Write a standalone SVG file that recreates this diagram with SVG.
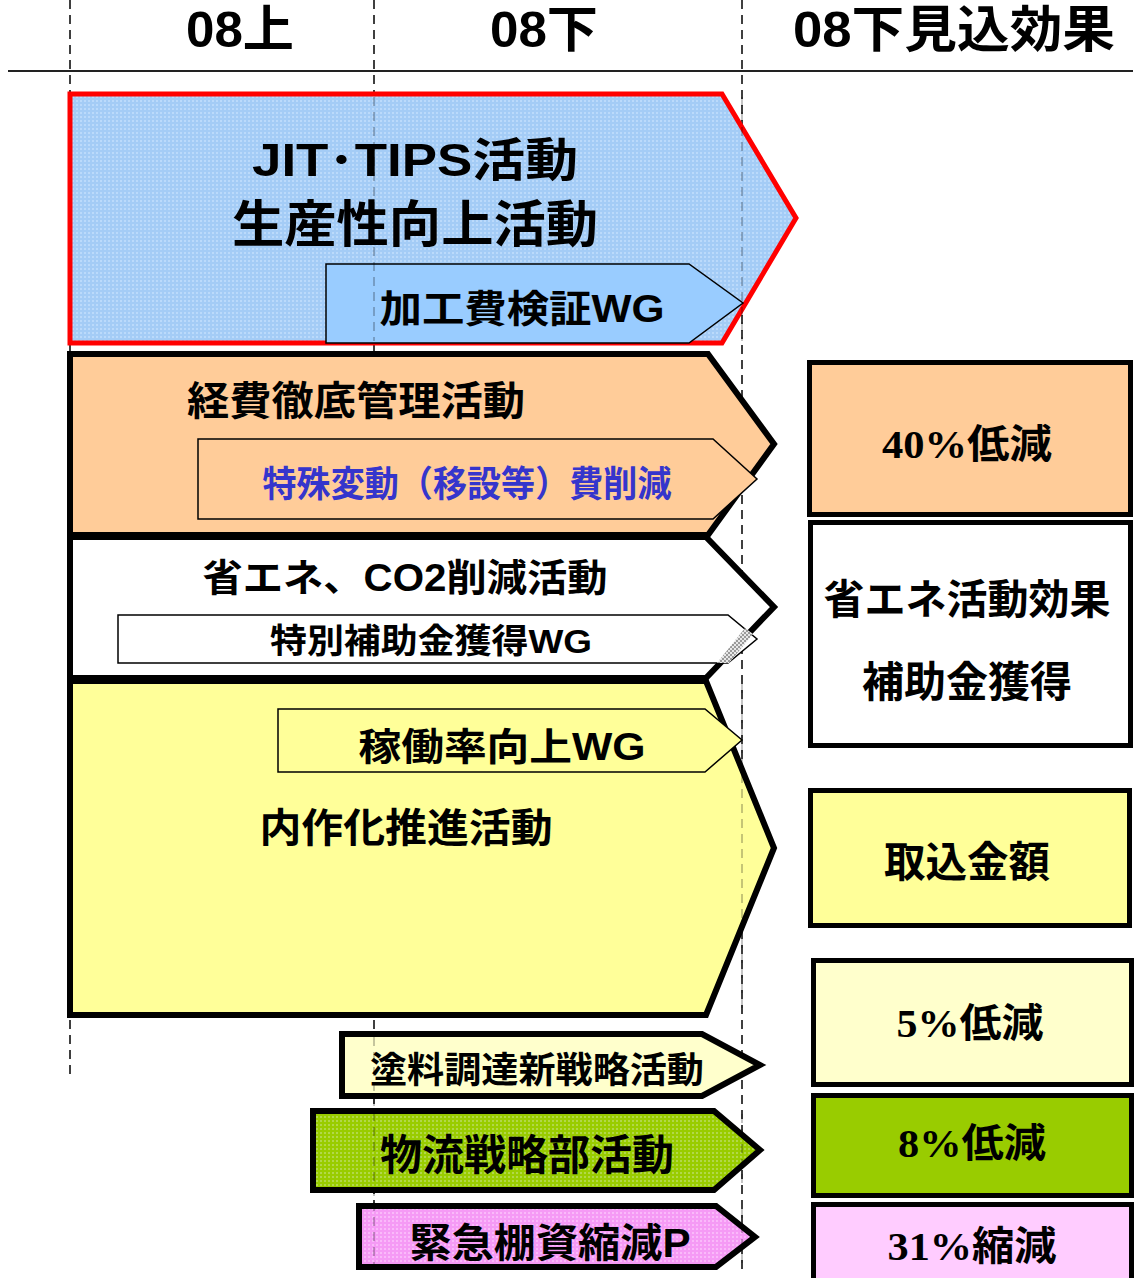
<svg xmlns="http://www.w3.org/2000/svg" width="1135" height="1278" viewBox="0 0 1135 1278">
<style>
.t{font-family:"Liberation Sans","Noto Sans CJK JP",sans-serif;font-weight:bold;fill:#000;text-anchor:middle}
.s{font-family:"Liberation Serif","Noto Sans CJK JP",serif;font-weight:bold;fill:#000;text-anchor:middle}
.dash{stroke:#000;stroke-width:1.5;stroke-dasharray:9,6;fill:none}
.ghost{stroke:#000;stroke-width:1.5;stroke-dasharray:9,6;fill:none;stroke-opacity:0.3}
.outer{stroke:#000;stroke-width:6;stroke-linejoin:miter}
.inner{stroke:#000;stroke-width:1.5}
.box{stroke:#000;stroke-width:5}
</style>
<defs>
<pattern id="pBlue" width="4" height="4" patternUnits="userSpaceOnUse"><rect width="4" height="4" fill="#A4CCF6"/><rect width="2" height="2" fill="#BBDAFB"/></pattern>
<pattern id="pGreen" width="4" height="4" patternUnits="userSpaceOnUse"><rect width="4" height="4" fill="#99CC00"/><rect width="2" height="2" fill="#B2D84A"/></pattern>
<pattern id="pPink" width="4" height="4" patternUnits="userSpaceOnUse"><rect width="4" height="4" fill="#F59AF5"/><rect width="2" height="2" fill="#FAB9FA"/></pattern>
<pattern id="pGray" width="4" height="4" patternUnits="userSpaceOnUse"><rect width="4" height="4" fill="#E8E8E8"/><rect width="2" height="2" fill="#9A9A9A"/><rect x="2" y="2" width="2" height="2" fill="#9A9A9A"/></pattern>
</defs>

<g id="grid">
<line class="dash" x1="70" y1="0" x2="70" y2="1080"/>
<line class="dash" x1="374" y1="0" x2="374" y2="1272"/>
<line class="dash" x1="742" y1="0" x2="742" y2="1272"/>
<line x1="8" y1="71" x2="1133" y2="71" stroke="#222" stroke-width="2"/>
</g>

<g id="headers">
<text class="t" x="240" y="47" font-size="50" textLength="108" lengthAdjust="spacingAndGlyphs">08上</text>
<text class="t" x="544" y="47" font-size="50" textLength="108" lengthAdjust="spacingAndGlyphs">08下</text>
<text class="t" x="954" y="47" font-size="50" textLength="322" lengthAdjust="spacingAndGlyphs">08下見込効果</text>
</g>

<g id="jit">
<polygon points="70,94 722,94 796,218 722,343 70,343" fill="url(#pBlue)" stroke="#FF0000" stroke-width="5"/>
<text class="t" x="415" y="176" font-size="46" textLength="326" lengthAdjust="spacingAndGlyphs">JIT･TIPS活動</text>
<text class="t" x="415" y="242" font-size="50" textLength="366" lengthAdjust="spacingAndGlyphs">生産性向上活動</text>
</g>
<g id="kakou">
<polygon class="inner" points="326,264 689,264 743,303 689,343 326,343" fill="#99CCFF"/>
<text class="t" x="522" y="322" font-size="38" textLength="285" lengthAdjust="spacingAndGlyphs">加工費検証WG</text>
</g>

<g id="keihi">
<polygon class="outer" points="70,354 708,354 774,444 708,535 70,535" fill="#FFCC99"/>
<text class="t" x="356" y="415" font-size="40" textLength="338" lengthAdjust="spacingAndGlyphs">経費徹底管理活動</text>
</g>
<g id="tokushu">
<polygon class="inner" points="198,439 713,439 757,479 713,519 198,519" fill="#FFCC99"/>
<text class="t" x="467" y="497" font-size="36" fill="#3333CC" style="fill:#3535CC" textLength="409" lengthAdjust="spacingAndGlyphs">特殊変動（移設等）費削減</text>
</g>

<g id="shoene">
<polygon class="outer" points="70,537 706,537 774,607 706,678 70,678" fill="#FFFFFF"/>
<text class="t" x="405" y="591" font-size="38" textLength="405" lengthAdjust="spacingAndGlyphs">省エネ、CO2削減活動</text>
</g>
<g id="hojo">
<polygon class="inner" points="118,615 728,615 757,639 728,663 118,663" fill="#FFFFFF"/>
<polygon points="745,628 753,634 729,663 717,663" fill="url(#pGray)"/>
<text class="t" x="431" y="653" font-size="34" textLength="322" lengthAdjust="spacingAndGlyphs">特別補助金獲得WG</text>
</g>

<g id="naisaku">
<polygon class="outer" points="70,681 706,681 774,848 706,1015 70,1015" fill="#FFFF99"/>
<text class="t" x="406" y="842" font-size="40" textLength="293" lengthAdjust="spacingAndGlyphs">内作化推進活動</text>
</g>
<g id="kadou">
<polygon class="inner" points="278,709 705,709 742,740 705,772 278,772" fill="#FFFF99"/>
<text class="t" x="502" y="760" font-size="38" textLength="287" lengthAdjust="spacingAndGlyphs">稼働率向上WG</text>
</g>

<g id="toryo">
<polygon class="outer" points="342,1034 702,1034 760,1065 702,1096 342,1096" fill="#FFFFCC"/>
<text class="t" x="537" y="1083" font-size="36" textLength="334" lengthAdjust="spacingAndGlyphs">塗料調達新戦略活動</text>
</g>
<g id="butsuryu">
<polygon class="outer" points="313,1111 714,1111 760,1150 714,1190 313,1190" fill="url(#pGreen)"/>
<text class="t" x="527" y="1170" font-size="42" textLength="294" lengthAdjust="spacingAndGlyphs">物流戦略部活動</text>
</g>
<g id="kinkyu">
<polygon class="outer" points="359,1206 716,1206 755,1237 716,1267 359,1267" fill="url(#pPink)"/>
<text class="t" x="550" y="1257" font-size="40" textLength="281" lengthAdjust="spacingAndGlyphs">緊急棚資縮減P</text>
</g>

<g id="ghostlines">
<line class="ghost" x1="374" y1="97" x2="374" y2="341"/>
<line class="ghost" x1="742" y1="97" x2="742" y2="341"/>
<line class="ghost" x1="742" y1="684" x2="742" y2="1012"/>
<line class="ghost" x1="374" y1="1037" x2="374" y2="1264"/>
<line class="ghost" x1="742" y1="1114" x2="742" y2="1187"/>
<line class="ghost" x1="742" y1="1209" x2="742" y2="1264"/>
</g>

<g id="r40">
<rect class="box" x="809.5" y="362.5" width="321" height="152" fill="#FFCC99"/>
<text class="s" x="967" y="458" font-size="40" textLength="170" lengthAdjust="spacingAndGlyphs">40%低減</text>
</g>
<g id="rshoene">
<rect class="box" x="810.5" y="522.5" width="320" height="223" fill="#FFFFFF"/>
<text class="t" x="967" y="614" font-size="41" textLength="287" lengthAdjust="spacingAndGlyphs">省エネ活動効果</text>
<text class="t" x="967" y="697" font-size="42" textLength="210" lengthAdjust="spacingAndGlyphs">補助金獲得</text>
</g>
<g id="rtorikomi">
<rect class="box" x="810.5" y="790.5" width="319" height="135" fill="#FFFF99"/>
<text class="t" x="967" y="877" font-size="42" textLength="166" lengthAdjust="spacingAndGlyphs">取込金額</text>
</g>
<g id="r5">
<rect class="box" x="813.5" y="960.5" width="318" height="124" fill="#FFFFCC"/>
<text class="s" x="970" y="1037" font-size="40" textLength="147" lengthAdjust="spacingAndGlyphs">5%低減</text>
</g>
<g id="r8">
<rect class="box" x="813.5" y="1095.5" width="318" height="100" fill="#99CC00"/>
<text class="s" x="972" y="1157" font-size="40" textLength="148" lengthAdjust="spacingAndGlyphs">8%低減</text>
</g>
<g id="r31">
<rect class="box" x="813.5" y="1204.5" width="318" height="80" fill="#FFCCFF"/>
<text class="s" x="972" y="1260" font-size="40" textLength="169" lengthAdjust="spacingAndGlyphs">31%縮減</text>
</g>
</svg>
